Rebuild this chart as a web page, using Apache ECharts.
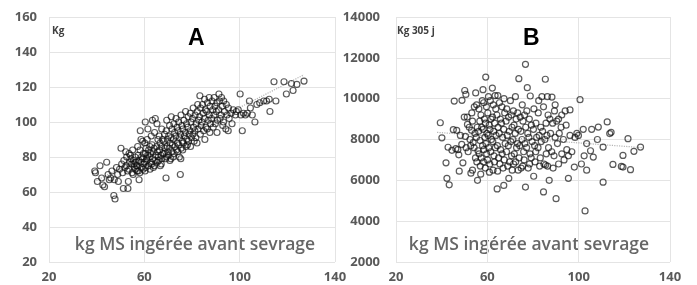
<!DOCTYPE html>
<html>
<head>
<meta charset="utf-8">
<title>Poids et lait selon MS ingérée</title>
<script src="https://cdn.jsdelivr.net/npm/echarts@6.0.0/dist/echarts.min.js"></script>
<style>
  html, body { margin: 0; padding: 0; background: #fff; }
  #chart { width: 697px; height: 285px; }
</style>
</head>
<body>
<div id="chart"></div>
<script>
// valeurs (x = kg MS ingérée avant sevrage)
const pointsA = [
  [39.2,72],[39.5,71],[40.3,66],[41.4,75],[42.1,68],[42.6,64],[43.3,63],[44.2,77],[44.8,70],[45.3,67],[45.9,68],[46.4,72],
  [47.2,58],[47.7,56],[47.4,67],[48.3,74],[48.8,70],[49.1,66],[49.6,73],[50.2,85],[50.5,76],[50.9,71],[51.2,62],[53.1,62],
  [51.4,78],[51.8,74],[52.2,83],[52.6,80],[52.4,75],[52.9,72],[53.3,66],[53.6,82],[53.9,77],[53.5,73],[54.2,81],[54.7,76],
  [54.4,79],[54.9,71],[55.1,84],[55.4,78],[55.8,74],[55.3,70],[55.6,76],[56.1,80],[56.5,77],[56.3,73],[56.8,75],[56.9,72],
  [57.8,67],[57.2,86],[57.4,81],[57.7,78],[57.1,75],[57.5,72],[58.3,95],[58.6,90],[58.2,84],[58.8,80],[58.4,77],[58.9,74],
  [58.1,71],[59.3,89],[59.6,82],[59.2,79],[59.8,76],[59.5,73],[60.4,100],[60.2,88],[60.7,85],[60.5,82],[60.9,79],[60.1,77],
  [60.6,74],[60.3,72],[61.5,96],[61.2,90],[61.8,84],[61.4,81],[61.1,78],[61.7,75],[62.3,86],[62.6,82],[62.1,80],[62.8,77],
  [62.4,73],[62.9,92],[63.4,101],[63.2,87],[63.7,83],[63.5,79],[63.1,76],[63.8,74],[64.6,102],[64.3,94],[64.1,85],[64.8,81],
  [64.5,78],[64.2,75],[65.3,99],[65.7,90],[65.2,86],[65.5,83],[65.9,80],[65.4,77],[66.2,92],[66.6,88],[66.4,84],[66.9,81],
  [66.1,78],[66.7,75],[67.3,96],[67.6,90],[67.2,86],[67.8,82],[67.4,79],[67.1,76],[68.5,93],[68.2,89],[68.7,85],[68.4,82],
  [68.9,79],[69.1,68],[69.4,101],[69.2,95],[69.7,90],[69.5,86],[69.8,83],[69.3,80],[70.6,98],[70.2,92],[70.8,88],[70.4,85],
  [70.1,81],[70.7,78],[71.3,103],[71.6,96],[71.2,91],[71.8,87],[71.5,83],[71.1,79],[72.4,99],[72.7,94],[72.2,90],[72.9,86],
  [72.5,82],[72.1,80],[73.3,102],[73.7,97],[73.2,92],[73.8,88],[73.5,84],[75.1,70],[74.4,100],[74.2,95],[74.8,91],[74.5,87],
  [74.1,83],[74.7,80],[75.4,104],[75.7,98],[75.2,93],[75.9,89],[75.5,85],[75.3,79],[76.6,101],[76.2,96],[76.8,92],[76.4,88],
  [76.1,84],[77.3,106],[77.7,99],[77.2,94],[77.8,90],[77.5,86],[78.4,103],[78.2,97],[78.8,93],[78.5,89],[78.1,87],[79.3,105],
  [79.6,100],[79.2,95],[79.8,91],[79.4,86],[80.5,108],[80.2,102],[80.7,97],[80.4,93],[80.9,89],[81.3,104],[81.7,99],[81.2,95],
  [81.6,91],[82.4,110],[82.2,106],[82.8,101],[82.5,96],[82.1,88],[83.3,115],[83.6,108],[83.2,103],[83.8,98],[83.5,93],[84.4,110],
  [84.7,105],[84.2,100],[84.9,95],[85.3,113],[85.6,107],[85.2,102],[85.8,97],[85.4,90],[86.5,111],[86.2,106],[86.8,101],[86.4,96],
  [87.2,114],[87.6,109],[87.3,104],[87.8,99],[87.5,94],[88.4,112],[88.7,107],[88.2,102],[88.9,97],[89.3,114],[89.6,109],[89.2,104],
  [89.8,99],[90.4,111],[90.2,106],[90.7,101],[90.5,94],[91.3,116],[91.6,112],[91.2,107],[91.8,102],[92.4,114],[92.7,109],[92.2,104],
  [92.9,98],[93.3,112],[93.6,106],[93.2,100],[94.4,110],[94.7,104],[94.2,96],[95.3,108],[95.6,102],[95.2,95],[96.4,105],[96.8,99],
  [97.3,107],[98.2,104],[98.6,106],[99.4,107],[100.2,116],[100.5,104],[101.1,95],[101.6,105],[102.4,104],[103.2,105],[104.1,112],
  [104.5,108],[105.3,104],[106.4,100],[107.2,110],[108.4,111],[110.1,112],[111.3,112],[112.4,113],[112.7,106],[114.4,123],
  [115.2,112],[118.6,123],[119.6,116],[121.7,122],[122.4,118],[124,121.5],[127,123.4]
];
const pointsB = [
  [39.4,8820],[40.1,8080],[41.9,6860],[42.3,6100],[43.3,5780],[42.8,7620],[44.5,7470],[45.1,8480],[45.5,9880],[46.2,7550],
  [46.6,8450],[47.1,7500],[47.5,7250],[47.7,6450],[48.2,8200],[48.8,7760],[48.9,9920],[49.3,6860],[49.9,9100],[50.1,10400],
  [50.4,8150],[50.7,7600],[50.6,10210],[51.2,9100],[51.3,8740],[51.6,7400],[52.1,8600],[52.4,8000],[52.7,7700],[52.8,6350],
  [53.2,9300],[53.5,8900],[53.1,8450],[53.8,7850],[53.5,6500],[54.9,10280],[54.3,9600],[54.6,8300],[54.2,7600],[54.8,7100],
  [55.3,9700],[55.6,8600],[55.2,8100],[55.9,7450],[55.7,6000],[55.4,6900],[56.3,9500],[56.7,8900],[56.2,8400],[56.8,7950],
  [56.4,7300],[56.9,6700],[58.1,10440],[57.8,9900],[57.2,9200],[57.5,8600],[57.9,7700],[57.3,7100],[57.1,6300],[58.4,9800],
  [58.7,9000],[58.2,8500],[58.9,8100],[58.5,7500],[58.3,6900],[59.3,11060],[59.6,9600],[59.2,8800],[59.8,8300],[59.4,7800],
  [59.7,7300],[59.1,6600],[60.5,10100],[60.2,9300],[60.8,8700],[60.4,8200],[60.6,7600],[60.1,7000],[60.9,6400],[61.3,9900],
  [61.6,9000],[61.2,8500],[61.8,8000],[61.5,7400],[61.1,6800],[62.2,10520],[62.6,9700],[62.3,9100],[62.8,8400],[62.4,7900],
  [62.9,7200],[62.5,6500],[63.4,10150],[63.7,9500],[63.2,8800],[63.8,8200],[63.5,7600],[63.1,6900],[64.6,10150],[64.2,9200],
  [64.7,8600],[64.4,7700],[64.9,7100],[64.3,5580],[64.5,6450],[65.3,9800],[65.7,9000],[65.2,8300],[65.8,7500],[65.5,6800],
  [66.4,9600],[66.2,8800],[66.7,8100],[66.5,7300],[66.9,6600],[67.3,10000],[67.6,9300],[67.2,8500],[67.8,7800],[67.4,7000],
  [67.2,5750],[68.5,9500],[68.2,8900],[68.7,8200],[68.4,7400],[68.9,6700],[69.3,9100],[69.6,8400],[69.2,7700],[69.8,6900],
  [69.4,6100],[70.1,9900],[70.5,9200],[70.8,8600],[70.3,7900],[70.6,7200],[70.9,6500],[72.3,10100],[71.4,9400],[71.7,8700],
  [71.2,8000],[71.8,7300],[71.5,6800],[72.6,9000],[72.2,8300],[72.8,7600],[72.4,6900],[73.8,10980],[73.3,9300],[73.6,8500],
  [73.2,7800],[73.9,7100],[73.5,6500],[74.4,9100],[74.7,8400],[74.2,7700],[74.8,6600],[75.3,9700],[75.6,8900],[75.2,8000],
  [75.9,7400],[75.5,6700],[76.7,11680],[76.3,9200],[76.8,8600],[76.4,7800],[76.1,7000],[76.7,5670],[77.5,10540],[77.3,9400],
  [77.7,8300],[77.2,7600],[77.9,6600],[78.8,10130],[78.4,9000],[78.2,8100],[78.7,7300],[78.5,6800],[79.3,8700],[79.6,7900],
  [79.2,7100],[80.3,6200],[80.4,9500],[80.2,8500],[80.7,7700],[80.9,6900],[81.3,8800],[81.6,8100],[81.2,7400],[82.5,9900],
  [82.3,9300],[82.7,8200],[82.2,7600],[82.9,6700],[83.9,10100],[83.4,8600],[83.6,7900],[83.2,7100],[84.6,9600],[84.2,8400],
  [84.8,6800],[84.6,5430],[85.4,10950],[85.7,8800],[85.2,8000],[85.8,7300],[85.5,6750],[86.3,10100],[86.6,9200],[86.1,8200],
  [86.8,7600],[86.4,6700],[87.4,9000],[87.7,8300],[87.1,6000],[88.3,10080],[88.6,8800],[88.2,7400],[88.8,6600],[89.4,9400],
  [89.7,8100],[89.2,7200],[89.7,9700],[90.4,8900],[90.7,7800],[90.1,5100],[91.2,9000],[91.5,8300],[91.2,6800],[92.6,9200],
  [92.3,8600],[92.6,7300],[93.3,8000],[93.6,7000],[94.1,9400],[94.5,8700],[94.8,7500],[95.5,7200],[95.5,6100],[96.2,8200],
  [96.2,9450],[97,7400],[98.4,8100],[98.1,6650],[99.2,8300],[99.9,8200],[100.6,9950],[101.2,6800],[102,8500],[102.4,7200],
  [102.8,4500],[103.5,6500],[103.5,7800],[105.2,7450],[105.7,8500],[106.4,7140],[108.6,8610],[108.2,8000],[110.7,5910],
  [110.7,7630],[112.5,8860],[113.6,8290],[114.2,8350],[115,6780],[118.7,6680],[119.4,6650],[119.4,7220],[121.6,8040],
  [122.7,6520],[124.2,7420],[127.1,7630]
];
// courbes de tendance (extrémités lues)
const trendA = [[39, 66], [127, 127]];
const trendB = [[38, 8350], [128, 7600]];

const xRange = [20, 140, 40];
const yRangeA = [20, 160, 20];
const yRangeB = [2000, 14000, 2000];
const xTitle = 'kg MS ingérée avant sevrage';

const chart = echarts.init(document.getElementById('chart'));

const labelStyle = {
  color: '#595959',
  fontSize: 13,
  fontWeight: 'bold',
  fontFamily: 'Open Sans, sans-serif',
  formatter: v => String(v)
};
const gridLine = { show: true, lineStyle: { color: '#e4e4e4', width: 1 } };

function xAxisFor(gridIndex) {
  return {
    type: 'value', gridIndex,
    min: xRange[0], max: xRange[1], interval: xRange[2],
    axisLine: { show: false }, axisTick: { show: false },
    axisLabel: { ...labelStyle, margin: 9 },
    splitLine: gridLine
  };
}
function yAxisFor(gridIndex, r, margin) {
  return {
    type: 'value', gridIndex,
    min: r[0], max: r[1], interval: r[2],
    axisLine: { show: false }, axisTick: { show: false },
    axisLabel: { ...labelStyle, margin },
    splitLine: gridLine
  };
}
function scatterFor(idx, data) {
  return {
    type: 'scatter', xAxisIndex: idx, yAxisIndex: idx,
    data, symbol: 'circle', symbolSize: 6,
    itemStyle: { color: 'rgba(255,255,255,0)', borderColor: 'rgba(15,15,15,0.85)', borderWidth: 1.2 },
    silent: true, z: 3
  };
}
function trendFor(idx, data) {
  return {
    type: 'line', xAxisIndex: idx, yAxisIndex: idx,
    data, symbol: 'none', silent: true, z: 2,
    lineStyle: { color: '#b5b5b5', width: 1.2, type: 'dotted' }
  };
}
function txt(x, y, text, font, fill, align) {
  return {
    type: 'text', x, y, silent: true,
    style: { text, font, fill, textAlign: align || 'left', textVerticalAlign: 'middle' }
  };
}

chart.setOption({
  animation: false,
  grid: [
    { left: 49, top: 17, width: 286, height: 245 },
    { left: 396, top: 17, width: 274, height: 245 }
  ],
  xAxis: [xAxisFor(0), xAxisFor(1)],
  yAxis: [yAxisFor(0, yRangeA, 12), yAxisFor(1, yRangeB, 16)],
  series: [
    trendFor(0, trendA), scatterFor(0, pointsA),
    trendFor(1, trendB), scatterFor(1, pointsB)
  ],
  graphic: [
    txt(52, 31, 'Kg', 'bold 10px "Open Sans", sans-serif', '#404040'),
    txt(397, 31, 'Kg 305 j', 'bold 10px "Open Sans", sans-serif', '#404040'),
    txt(188, 39, 'A', 'bold 23px "Liberation Sans", sans-serif', '#000'),
    txt(523, 39, 'B', 'bold 23px "Liberation Sans", sans-serif', '#000'),
    txt(195, 245, xTitle, '600 17.5px "Open Sans", sans-serif', '#666666', 'center'),
    txt(529, 245, xTitle, '600 17.5px "Open Sans", sans-serif', '#666666', 'center')
  ]
});
</script>
</body>
</html>
